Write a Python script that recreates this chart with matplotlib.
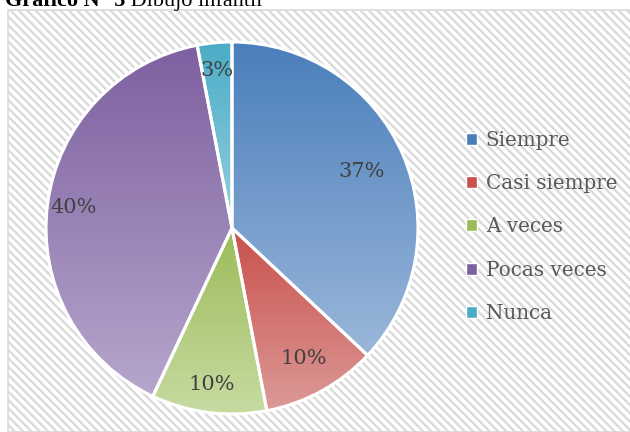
import numpy as np
import matplotlib.pyplot as plt
from matplotlib.patches import Rectangle, Patch
from matplotlib.colors import LinearSegmentedColormap

categorias = ['Siempre', 'Casi siempre', 'A veces', 'Pocas veces', 'Nunca']
porcentajes = [37, 10, 10, 40, 3]
etiquetas = ['37%', '10%', '10%', '40%', '3%']

# colores (oscuro arriba, claro abajo) como en el degradado de Excel
oscuros = ['#4A7EBB', '#C9504C', '#9BBB59', '#7D60A0', '#4BACC6']
claros = ['#9AB7DA', '#DC9A98', '#C7DBA2', '#B6A6CC', '#96D0DF']
dist_etiq = [0.76, 0.80, 0.85, 0.86, 0.85]

fig = plt.figure(figsize=(6.3, 4.32), dpi=100)

# fondo del area del grafico con rayas diagonales
plt.rcParams['hatch.linewidth'] = 1.6
plt.rcParams['hatch.color'] = '#E3E3E3'
fondo = Rectangle((8 / 630, 0), 1, 1 - 10 / 432, transform=fig.transFigure,
                  facecolor='white', edgecolor='#D9D9D9', hatch='\\\\\\\\',
                  linewidth=1.2, zorder=-5)
fig.patches.append(fondo)

# titulo (cortado arriba como en el original)
t1 = fig.text(5 / 630, 1 - 6 / 432, 'Gráfico N° 5', fontsize=16, weight='bold',
              family='Liberation Serif', va='baseline')
fig.add_artist(plt.Annotation(' Dibujo infantil', xy=(1, 0), xycoords=t1,
                              va='bottom', fontsize=16, family='Liberation Serif'))

R = 186
ax = fig.add_axes([(232 - 200) / 630, (432 - 228 - 200) / 432, 400 / 630, 400 / 432])
lim = 200 / R

wedges, _ = ax.pie(porcentajes, startangle=90, counterclock=False, radius=1,
                   wedgeprops=dict(edgecolor='white', linewidth=2.2, facecolor='none'))

for w, c1, c2 in zip(wedges, oscuros, claros):
    ext = w.get_path().get_extents(w.get_transform() - ax.transData)
    cmap = LinearSegmentedColormap.from_list('g', [c2, c1])
    grad = np.linspace(0, 1, 256).reshape(-1, 1)
    im = ax.imshow(grad, cmap=cmap, origin='lower', aspect='auto',
                   extent=[ext.x0, ext.x1, ext.y0, ext.y1], zorder=1)
    im.set_clip_path(w)
    w.set_zorder(2)
ax.set_xlim(-lim, lim)
ax.set_ylim(-lim, lim)
ax.axis('off')

for w, txt, d in zip(wedges, etiquetas, dist_etiq):
    ang = np.deg2rad((w.theta1 + w.theta2) / 2)
    ax.text(d * np.cos(ang), d * np.sin(ang), txt, ha='center', va='center',
            fontsize=15, family='DejaVu Serif', color='#404040', zorder=3)

handles = [Patch(facecolor=c, edgecolor='white') for c in oscuros]
leg = fig.legend(handles, categorias, loc='upper left',
                 bbox_to_anchor=(448 / 630, 1 - 113 / 432), frameon=False,
                 prop={'family': 'DejaVu Serif', 'size': 14.3},
                 labelcolor='#595959', handlelength=0.55, handleheight=0.55,
                 handletextpad=0.45, labelspacing=1.22)

fig.savefig('out.png', dpi=100)
